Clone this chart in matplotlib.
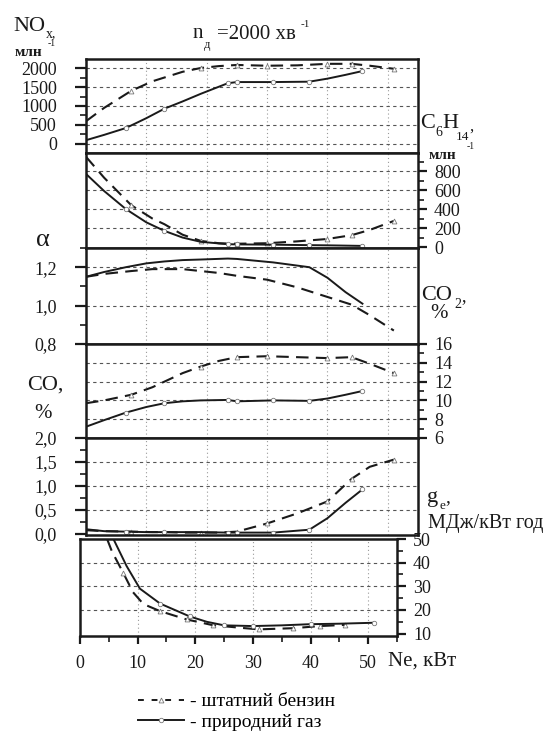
import matplotlib
matplotlib.use('Agg')
import matplotlib.pyplot as plt
from matplotlib.lines import Line2D
from matplotlib.ticker import MultipleLocator, FuncFormatter

plt.rcParams['font.family'] = ['Liberation Serif', 'DejaVu Serif']

# Ne, kW
ne_benz = [0, 3, 7.5, 11, 13, 16, 19, 22, 25, 30, 35, 40, 44, 47, 51]
ne_gas = [0, 3, 6.6, 10, 13, 16, 19, 23.5, 25, 31, 37, 40, 43, 45.8]

nox_benz = [600, 950, 1400, 1650, 1750, 1900, 2000, 2050, 2080, 2060, 2070, 2110, 2110, 2060, 1980]
nox_gas = [100, 240, 420, 680, 930, 1120, 1320, 1600, 1630, 1630, 1640, 1720, 1820, 1920]

c6h14_benz = [950, 730, 440, 300, 240, 130, 65, 40, 35, 40, 60, 85, 125, 180, 275]
c6h14_gas = [770, 590, 400, 260, 170, 100, 55, 30, 28, 25, 20, 18, 15, 12]

alpha_benz = [1.15, 1.165, 1.18, 1.19, 1.19, 1.19, 1.18, 1.17, 1.155, 1.135, 1.095, 1.045, 1.005, 0.95, 0.87]
alpha_gas = [1.15, 1.175, 1.20, 1.22, 1.23, 1.237, 1.24, 1.245, 1.243, 1.225, 1.20, 1.145, 1.07, 1.01]

co2_benz = [9.7, 10.0, 10.6, 11.4, 12.0, 12.9, 13.6, 14.2, 14.6, 14.7, 14.6, 14.5, 14.6, 13.9, 12.9]
co2_gas = [7.2, 7.9, 8.7, 9.3, 9.7, 9.9, 10.0, 10.05, 9.9, 10.0, 9.95, 10.2, 10.6, 11.0]

co_benz = [0.08, 0.06, 0.05, 0.04, 0.04, 0.03, 0.03, 0.03, 0.05, 0.22, 0.43, 0.68, 1.15, 1.4, 1.55]
co_gas = [0.10, 0.06, 0.05, 0.04, 0.04, 0.04, 0.04, 0.03, 0.03, 0.03, 0.09, 0.33, 0.65, 0.93]

ne_ge_benz = [4.7, 5.5, 6.0, 7.5, 9.2, 11, 13.9, 18.5, 23, 27.7, 31, 37, 41.6, 46]
ge_benz = [50, 45, 42.6, 35.7, 27.5, 22.5, 19.5, 16, 13.6, 12.5, 11.8, 12.3, 13.2, 13.7]
ne_ge_gas = [5.8, 7, 8.1, 10.4, 13.9, 19, 22, 25, 30, 35, 40, 45, 51]
ge_gas = [50, 44, 38.5, 29, 22.7, 17.3, 15, 13.5, 13.2, 13.5, 14.0, 14.2, 14.6]

mk_benz = [2, 6, 8, 9, 11, 12, 14]
mk_gas = [2, 4, 7, 8, 9, 10, 13]

INK = '#1a1a1a'
W, H = 549, 731
fig = plt.figure(figsize=(W / 100, H / 100), dpi=100)


def box(l, t, r, b):
    return [l / W, 1 - b / H, (r - l) / W, (b - t) / H]


def comma(v, pos):
    return ('%.1f' % v).replace('.', ',')


def style(ax, side, ylim, major, minor, grid_y, fmt=None):
    ax.set_xlim(0, 55)
    ax.set_ylim(*ylim)
    for s in ax.spines.values():
        s.set_linewidth(1.8)
        s.set_color(INK)
    for gx in [10, 20, 30, 40, 50]:
        ax.axvline(gx, color='#9a9a9a', lw=0.8, ls=(0, (1, 2.5)), zorder=0)
    for gy in grid_y:
        ax.axhline(gy, color='#555555', lw=0.8, ls=(0, (3, 3)), zorder=0)
    ax.yaxis.set_major_locator(MultipleLocator(major))
    ax.yaxis.set_minor_locator(MultipleLocator(minor))
    if fmt:
        ax.yaxis.set_major_formatter(FuncFormatter(fmt))
    if side == 'left':
        ax.tick_params(axis='y', which='both', left=True, right=False, labelleft=True,
                       labelright=False, direction='out', colors=INK, labelsize=13)
        ax.tick_params(axis='y', which='major', length=8, width=1.6, pad=13)
    else:
        ax.yaxis.tick_right()
        ax.tick_params(axis='y', which='both', direction='out', colors=INK, labelsize=13)
        ax.tick_params(axis='y', which='major', length=6.5, width=1.6, pad=5)
    ax.tick_params(axis='y', which='minor', length=4, width=1.2)
    ax.tick_params(axis='x', which='both', bottom=False, labelbottom=False)


def curves(ax, xb, yb, xg, yg, mb, mg):
    ax.plot(xb, yb, color=INK, lw=1.5, dashes=(6, 3.5), marker='^', markevery=mb,
            ms=3.5, mfc='white', mec='#777777', mew=0.6)
    ax.plot(xg, yg, color=INK, lw=1.4, marker='o', markevery=mg,
            ms=3.2, mfc='white', mec='#777777', mew=0.6)


ax1 = fig.add_axes(box(86, 59, 418, 153))
style(ax1, 'left', (-237, 2237), 500, 250, [0, 500, 1000, 1500, 2000])
curves(ax1, ne_benz, nox_benz, ne_gas, nox_gas, mk_benz, mk_gas)

ax2 = fig.add_axes(box(86, 153, 418, 248))
style(ax2, 'right', (-10, 990), 200, 100, [200, 400, 600, 800])
ax2.set_yticks([0, 200, 400, 600, 800])
curves(ax2, ne_benz, c6h14_benz, ne_gas, c6h14_gas, mk_benz, mk_gas)

ax3 = fig.add_axes(box(86, 248, 418, 344))
style(ax3, 'left', (0.8, 1.30), 0.2, 0.1, [1.0, 1.2], comma)
curves(ax3, ne_benz, alpha_benz, ne_gas, alpha_gas, [], [])

ax4 = fig.add_axes(box(86, 344, 418, 438))
style(ax4, 'right', (6, 16), 2, 1, [8, 10, 12, 14])
curves(ax4, ne_benz, co2_benz, ne_gas, co2_gas, mk_benz, mk_gas)

ax5 = fig.add_axes(box(86, 438, 418, 535))
style(ax5, 'left', (-0.02, 2.0), 0.5, 0.25, [0.5, 1.0, 1.5], comma)
curves(ax5, ne_benz, co_benz, ne_gas, co_gas, mk_benz, mk_gas)

ax6 = fig.add_axes(box(80, 539, 397, 636))
style(ax6, 'right', (9, 50), 10, 5, [20, 30, 40])
curves(ax6, ne_ge_benz, ge_benz, ne_ge_gas, ge_gas, [3, 6, 7, 8, 10, 11, 12, 13], [4, 5, 7, 8, 10, 12])
ax6.xaxis.set_minor_locator(MultipleLocator(5))
ax6.set_xticks([0, 10, 20, 30, 40, 50])
ax6.tick_params(axis='x', which='both', bottom=True, labelbottom=True, direction='out',
                colors=INK, labelsize=13)
ax6.tick_params(axis='x', which='major', length=6, width=1.6, pad=8)
ax6.tick_params(axis='x', which='minor', length=4, width=1.2)


def txt(x, y, s, size, **kw):
    fig.text(x / W, 1 - y / H, s, fontsize=size, color=INK, va='baseline', ha='left', **kw)


# NOx label
txt(13, 31, 'NO', 16)
txt(46, 37, 'x,', 10)
txt(48, 46, '-1', 7)
txt(15, 56, 'млн', 11, fontweight='bold')
# title
txt(193, 38, 'n', 15)
txt(204, 48, 'д', 9)
txt(217, 39, '=2000 хв', 15)
txt(301, 27, '-1', 8)
# C6H14
txt(420, 128, 'C', 16)
txt(435, 136, '6', 10)
txt(442, 128, 'H', 16)
txt(456, 140, '14', 9.5)
txt(469, 131, ',', 12)
txt(467, 149, '-1', 7)
txt(429, 159, 'млн', 11, fontweight='bold')
# alpha
txt(36, 246, 'α', 19)
# CO2
txt(421, 300, 'CO', 16)
txt(454, 308, '2', 10)
txt(461, 301, ',', 13)
txt(430, 318, '%', 15)
# CO
txt(27, 390, 'CO,', 16)
txt(34, 418, '%', 15)
# g_e
txt(427, 502, 'g', 16)
txt(439, 509, 'e', 9.5)
txt(445, 502, ',', 14)
txt(428, 528, 'МДж/кВт год', 14.5)
# x label
txt(388, 666, 'Ne, кВт', 15)

handles = [
    Line2D([], [], color=INK, lw=1.4, dashes=(3, 4), marker='^', ms=3.5, mfc='white', mec='#777777', mew=0.6),
    Line2D([], [], color=INK, lw=1.4, marker='o', ms=3.2, mfc='white', mec='#777777', mew=0.6),
]
fig.legend(handles, ['- штатний бензин', '- природний газ'], loc='upper left',
           bbox_to_anchor=(128 / W, 1 - 683 / H), frameon=False, fontsize=14,
           handlelength=2.4, handletextpad=0.3, labelspacing=0.15, borderpad=0)

fig.savefig('out.png', dpi=100, facecolor='white')
